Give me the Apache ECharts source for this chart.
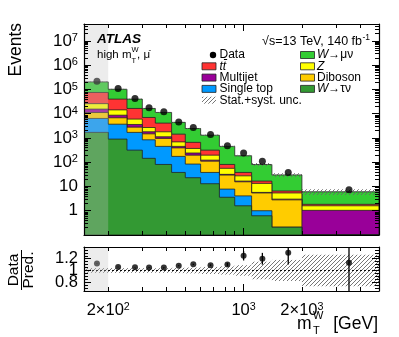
<!DOCTYPE html>
<html>
<head>
<meta charset="utf-8">
<script src="https://cdn.jsdelivr.net/npm/echarts@6/dist/echarts.min.js"></script>
<style>
  html, body { margin: 0; padding: 0; background: #fff; }
  #chart { width: 399px; height: 337px; }
</style>
</head>
<body>
<div id="chart"></div>
<script>
// bin edges of m_T^W [GeV]
var binEdges = [150, 200, 250, 300, 350, 425, 500, 600, 750, 900, 1100, 1400, 2000, 5000];

// expected events per process (stack order: bottom -> top)
var wTauNu    = [1700, 900, 315, 145, 81, 38, 23, 13, 3.6, 1.6, 0.62, 0.21, 0];
var singleTop = [4700, 2800, 1385, 695, 369, 136, 61, 25, 4.2, 2.5, 0.38, 0, 0];
var diboson   = [4800, 3100, 1100, 640, 510, 216, 112, 73, 21.7, 11.5, 4.4, 2.6, 0];
var multijet  = [4300, 1900, 800, 320, 160, 60, 44, 11, 2.1, 1.1, 0.3, 0.2, 1.04];
var zJets     = [10500, 5700, 2400, 900, 680, 240, 130, 74, 24.4, 10.8, 7.7, 2.4, 0.56];
var ttbar     = [49000, 25600, 10500, 4300, 2300, 750, 290, 119, 25, 10.5, 3.3, 1.1, 0.24];
var wMuNu     = [130000, 62000, 23500, 9500, 7200, 2960, 1800, 985, 369, 147, 64, 23.5, 4.2];

var dataEvents = [220000, 110000, 42000, 17500, 12000, 4600, 2700, 1400, 475, 240, 111, 38, 7.3];

// lower panel
var ratioVals = [1.12, 1.06, 1.055, 1.05, 1.05, 1.08, 1.105, 1.09, 1.1, 1.25, 1.2, 1.3, 1.13];
var ratioErr  = [0.004, 0.005, 0.005, 0.006, 0.006, 0.008, 0.01, 0.015, 0.03, 0.08, 0.1, 0.2, 0.55];
var relUnc    = [0.04, 0.04, 0.04, 0.04, 0.04, 0.045, 0.05, 0.06, 0.07, 0.09, 0.15, 0.18, 0.27];

// tick labels
var xLabelTicks = [200, 1000, 2000];
var yLabelTicks = [1, 10, 100, 1000, 10000, 100000, 1000000, 10000000];
var ratioLabelTicks = [0.8, 1, 1.2];

var X_MIN = 150, X_MAX = 5000, Y_MIN = 0.1, Y_MAX = 5e7, R_MIN = 0.65, R_MAX = 1.4;
var FONT = 'Liberation Sans';
var lg = Math.log10;

var procs = [
  { name: 'W→τν', vals: wTauNu, color: '#339933' },
  { name: 'Single top', vals: singleTop, color: '#0099ff' },
  { name: 'Diboson', vals: diboson, color: '#ffcc00' },
  { name: 'Multijet', vals: multijet, color: '#990099' },
  { name: 'Z', vals: zJets, color: '#ffff00' },
  { name: 'ttbar', vals: ttbar, color: '#ff3333' },
  { name: 'W→μν', vals: wMuNu, color: '#33cc33' }
];

// cumulative stack tops
var cum = [];
var run = binEdges.slice(1).map(function () { return 0; });
procs.forEach(function (p) {
  run = run.map(function (v, i) { return v + p.vals[i]; });
  cum.push(run.slice());
});
var total = cum[cum.length - 1];

var centers = binEdges.slice(1).map(function (e, i) { return (binEdges[i] + e) / 2; });

// hatch pattern
var hatch = document.createElement('canvas');
hatch.width = 4; hatch.height = 4;
(function () {
  var c = hatch.getContext('2d');
  c.strokeStyle = '#666'; c.lineWidth = 0.9;
  c.beginPath();
  c.moveTo(0, 4); c.lineTo(4, 0);
  c.moveTo(-1, 1); c.lineTo(1, -1);
  c.moveTo(3, 5); c.lineTo(5, 3);
  c.stroke();
})();
var hatchFill = { image: hatch, repeat: 'repeat' };

// ticks
var xMajor = [lg(1000)];
var xMinor = [];
[100, 1000].forEach(function (d) {
  for (var k = 2; k <= 9; k++) { var v = k * d; if (v > X_MIN && v < X_MAX) xMinor.push(lg(v)); }
});
var yMajor = [], yMinor = [];
for (var e = -1; e <= 7; e++) {
  yMajor.push(e);
  for (var k = 2; k <= 9; k++) { var v = k * Math.pow(10, e); if (v < Y_MAX) yMinor.push(lg(v)); }
}
var rMajor = [0.8, 1, 1.2];
var rMinor = [0.7, 0.75, 0.85, 0.9, 0.95, 1.05, 1.1, 1.15, 1.25, 1.3, 1.35];

function powLabel(v) {
  var val = Math.round(Math.pow(10, v) * 1000) / 1000;
  if (val < 100) return '{b|' + val + '}';
  var ex = Math.floor(lg(val) + 1e-9);
  var m = Math.round(val / Math.pow(10, ex));
  return (m === 1 ? '{b|10}' : '{b|' + m + '×10}') + '{s|' + ex + '}';
}
function richPow(size) {
  return {
    b: { fontSize: size, fontFamily: FONT, color: '#000', lineHeight: size },
    s: { fontSize: size * 0.65, fontFamily: FONT, color: '#000', verticalAlign: 'top', lineHeight: size * 0.65 }
  };
}
function ratioLabel(vals) {
  return {
    show: true, customValues: vals, margin: 6, fontSize: 16.5, lineHeight: 10,
    fontFamily: FONT, color: '#000', hideOverlap: false,
    formatter: function (v) { return Math.abs(v - 1) < 1e-6 ? '1' : v.toFixed(1); }
  };
}

function tickAxis(gridIndex, position, min, max, vals, len, showLine, label) {
  return {
    type: 'value', gridIndex: gridIndex, position: position, min: min, max: max, z: 10,
    splitLine: { show: false },
    axisLine: { show: showLine, onZero: false, lineStyle: { color: '#000', width: 1.2 } },
    axisTick: { show: true, inside: true, length: len, customValues: vals, lineStyle: { color: '#000', width: 1 } },
    axisLabel: label || { show: false }
  };
}

var xAxes = [
  tickAxis(0, 'bottom', lg(X_MIN), lg(X_MAX), xMajor, 7, true),
  tickAxis(0, 'top', lg(X_MIN), lg(X_MAX), xMajor, 7, true),
  tickAxis(0, 'top', lg(X_MIN), lg(X_MAX), xMinor, 4, false),
  tickAxis(0, 'bottom', lg(X_MIN), lg(X_MAX), xMinor, 4, false),
  tickAxis(1, 'bottom', lg(X_MIN), lg(X_MAX), xMajor, 7, true, {
    show: true, customValues: xLabelTicks.map(lg), margin: 11, formatter: powLabel, rich: richPow(16.5)
  }),
  tickAxis(1, 'top', lg(X_MIN), lg(X_MAX), xMajor, 7, true),
  tickAxis(1, 'top', lg(X_MIN), lg(X_MAX), xMinor, 4, false),
  tickAxis(1, 'bottom', lg(X_MIN), lg(X_MAX), xMinor, 4, false)
];
var yAxes = [
  tickAxis(0, 'left', lg(Y_MIN), lg(Y_MAX), yMajor, 7, true, {
    show: true, customValues: yLabelTicks.map(lg), margin: 6, formatter: powLabel, rich: richPow(17)
  }),
  tickAxis(0, 'right', lg(Y_MIN), lg(Y_MAX), yMajor, 7, true),
  tickAxis(0, 'right', lg(Y_MIN), lg(Y_MAX), yMinor, 4, false),
  tickAxis(0, 'left', lg(Y_MIN), lg(Y_MAX), yMinor, 4, false),
  tickAxis(1, 'left', R_MIN, R_MAX, rMajor, 7, true, ratioLabel([ratioLabelTicks[0], ratioLabelTicks[2]])),
  tickAxis(1, 'right', R_MIN, R_MAX, rMajor, 7, true),
  tickAxis(1, 'right', R_MIN, R_MAX, rMinor, 4, false),
  tickAxis(1, 'left', R_MIN, R_MAX, rMinor, 4, false, ratioLabel([ratioLabelTicks[1]]))
];

var series = [];

// stacked histograms, drawn from the top of the stack downwards
for (var p = procs.length - 1; p >= 0; p--) {
  (function (tops, color, order) {
    series.push({
      type: 'custom', xAxisIndex: 0, yAxisIndex: 0, z: 2, clip: true, silent: true,
      data: [[lg(1000), 0]],
      renderItem: function (params, api) {
        var pts = [api.coord([lg(binEdges[0]), lg(Y_MIN)])];
        for (var i = 0; i < tops.length; i++) {
          var y = lg(Math.max(tops[i], Y_MIN));
          pts.push(api.coord([lg(binEdges[i]), y]));
          pts.push(api.coord([lg(binEdges[i + 1]), y]));
        }
        pts.push(api.coord([lg(binEdges[binEdges.length - 1]), lg(Y_MIN)]));
        return { type: 'polygon', z2: order, shape: { points: pts },
          style: { fill: color, stroke: '#222', lineWidth: 0.8 } };
      }
    });
  })(cum[p], procs[p].color, procs.length - p);
}

// uncertainty band on the total prediction
series.push({
  type: 'custom', xAxisIndex: 0, yAxisIndex: 0, z: 3, clip: true, silent: true,
  data: total.map(function (t, i) { return [i, t]; }),
  renderItem: function (params, api) {
    var i = api.value(0), t = total[i];
    var p0 = api.coord([lg(binEdges[i]), lg(t * (1 + relUnc[i]))]);
    var p1 = api.coord([lg(binEdges[i + 1]), lg(t * (1 - relUnc[i]))]);
    return { type: 'rect', shape: { x: p0[0], y: p0[1], width: p1[0] - p0[0], height: p1[1] - p0[1] },
      style: { fill: hatchFill } };
  }
});

// data points
series.push({
  type: 'scatter', xAxisIndex: 0, yAxisIndex: 0, z: 4, silent: true,
  symbol: 'circle', symbolSize: 7, itemStyle: { color: '#000' },
  data: dataEvents.map(function (d, i) { return [lg(centers[i]), lg(d)]; })
});

// ratio: uncertainty band
series.push({
  type: 'custom', xAxisIndex: 4, yAxisIndex: 4, z: 2, clip: true, silent: true,
  data: relUnc.map(function (u, i) { return [i, u]; }),
  renderItem: function (params, api) {
    var i = api.value(0), u = relUnc[i];
    var p0 = api.coord([lg(binEdges[i]), 1 + u]);
    var p1 = api.coord([lg(binEdges[i + 1]), 1 - u]);
    return { type: 'rect', shape: { x: p0[0], y: p0[1], width: p1[0] - p0[0], height: p1[1] - p0[1] },
      style: { fill: hatchFill } };
  }
});

// ratio: reference line at 1
series.push({
  type: 'line', xAxisIndex: 4, yAxisIndex: 4, z: 3, silent: true, symbol: 'none',
  lineStyle: { color: '#000', width: 1, type: [2, 2] },
  data: [[lg(X_MIN), 1], [lg(X_MAX), 1]]
});

// ratio: error bars
series.push({
  type: 'custom', xAxisIndex: 4, yAxisIndex: 4, z: 4, clip: true, silent: true,
  data: ratioVals.map(function (r, i) { return [lg(centers[i]), r, ratioErr[i]]; }),
  renderItem: function (params, api) {
    var x = api.value(0), r = api.value(1), e = api.value(2);
    var a = api.coord([x, r + e]), b = api.coord([x, r - e]);
    return { type: 'line', shape: { x1: a[0], y1: a[1], x2: b[0], y2: b[1] },
      style: { stroke: '#000', lineWidth: 1.3 } };
  }
});

// ratio: points
series.push({
  type: 'scatter', xAxisIndex: 4, yAxisIndex: 4, z: 4, silent: true,
  symbol: 'circle', symbolSize: 6, itemStyle: { color: '#000' },
  data: ratioVals.map(function (r, i) { return [lg(centers[i]), r]; })
});

// grey shaded region below 200 GeV, both panels
[[0, lg(Y_MIN), lg(Y_MAX)], [1, R_MIN, R_MAX]].forEach(function (g) {
  series.push({
    type: 'custom', xAxisIndex: g[0] * 4, yAxisIndex: g[0] * 4, z: 6, clip: true, silent: true,
    data: [[lg(X_MIN), g[1]]],
    renderItem: function (params, api) {
      var p0 = api.coord([lg(X_MIN), g[2]]);
      var p1 = api.coord([lg(binEdges[1]), g[1]]);
      return { type: 'rect', shape: { x: p0[0], y: p0[1], width: p1[0] - p0[0], height: p1[1] - p0[1] },
        style: { fill: 'rgba(194,194,194,0.31)' } };
    }
  });
});

// text and legend
function txt(x, y, text, size, extra, rot) {
  var s = { text: text, fontSize: size, fontFamily: FONT, fill: '#000', align: 'left', verticalAlign: 'middle' };
  for (var k in extra) s[k] = extra[k];
  return { type: 'text', x: x, y: y, rotation: rot || 0, z: 20, style: s };
}
function box(x, y, color) {
  return { type: 'rect', z: 20, shape: { x: x, y: y - 3.5, width: 14, height: 7 },
    style: { fill: color, stroke: '#222', lineWidth: 0.8 } };
}
var rows = [55, 66.3, 77.6, 88.9, 100.2];
var lx = 202, lt = 219.5, rx = 300.5, rt = 317;
var greek = { i: { fontStyle: 'italic', fontSize: 12, fontFamily: FONT }, n: { fontSize: 12, fontFamily: FONT } };
var UP = Math.PI / 2;

var graphics = [
  txt(16, 23, 'Events', 17.5, { align: 'right' }, UP),
  txt(14, 270, 'Data', 15.5, { align: 'center' }, UP),
  txt(28.5, 270, 'Pred.', 15.5, { align: 'center' }, UP),
  { type: 'line', z: 20, shape: { x1: 21.5, y1: 250, x2: 21.5, y2: 290 }, style: { stroke: '#000', lineWidth: 1 } },
  txt(297, 324, 'm', 17.5),
  txt(313, 316, 'W', 11),
  txt(313, 331, 'T', 11),
  txt(378, 324, '[GeV]', 17.5, { align: 'right' }),
  txt(97, 39, 'ATLAS', 13.5, { fontWeight: 'bold', fontStyle: 'italic' }),
  txt(97, 55, 'high m', 11.5),
  txt(131.5, 50, 'W', 7.5),
  txt(131.5, 60.5, 'T', 7.5),
  txt(137, 55, ', μ', 11.5),
  txt(148.5, 50, '-', 8),
  txt(362, 42, '√s=13 TeV, 140 fb', 12.5, { align: 'right' }),
  txt(362.5, 37.5, '-1', 8.5),

  { type: 'circle', z: 20, shape: { cx: 213, cy: rows[0], r: 3.2 }, style: { fill: '#000' } },
  txt(lt, rows[0], 'Data', 12),
  box(lx, rows[1], '#ff3333'),
  txt(lt, rows[1], 'tt\u0304', 12, { fontStyle: 'italic' }),
  box(lx, rows[2], '#990099'),
  txt(lt, rows[2], 'Multijet', 12),
  box(lx, rows[3], '#0099ff'),
  txt(lt, rows[3], 'Single top', 12),
  { type: 'rect', z: 20, shape: { x: lx, y: rows[4] - 3.5, width: 14, height: 7 }, style: { fill: hatchFill } },
  txt(lt, rows[4], 'Stat.+syst. unc.', 12),

  box(rx, rows[0], '#33cc33'),
  txt(rt, rows[0], '{i|W}{n|→μν}', 12, { rich: greek }),
  box(rx, rows[1], '#ffff00'),
  txt(rt, rows[1], 'Z', 12, { fontStyle: 'italic' }),
  box(rx, rows[2], '#ffcc00'),
  txt(rt, rows[2], 'Diboson', 12),
  box(rx, rows[3], '#339933'),
  txt(rt, rows[3], '{i|W}{n|→τν}', 12, { rich: greek })
];

var chart = echarts.init(document.getElementById('chart'), null, { renderer: 'canvas' });
chart.setOption({
  animation: false,
  backgroundColor: '#fff',
  grid: [
    { left: 84, top: 24, width: 295, height: 211 },
    { left: 84, top: 247, width: 295, height: 44 }
  ],
  xAxis: xAxes,
  yAxis: yAxes,
  series: series,
  graphic: graphics
});
</script>
</body>
</html>
